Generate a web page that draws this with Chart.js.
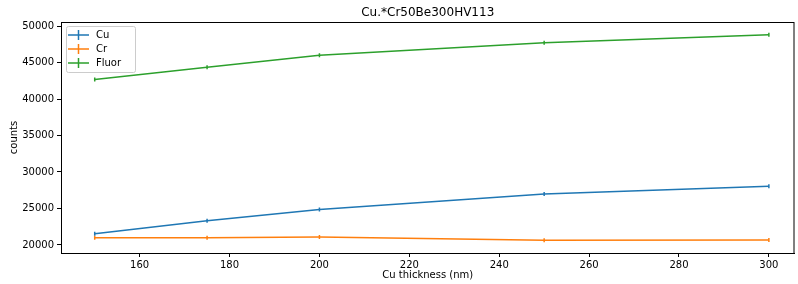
<!DOCTYPE html>
<html><head><meta charset="utf-8">
<script src="https://cdn.jsdelivr.net/npm/chart.js@4"></script>
<style>html,body{margin:0;padding:0;background:#fff}#wrap{width:798px;height:284px}</style>
</head><body><div id="wrap"><canvas id="c" width="798" height="284"></canvas></div>
<script>
const thickness = [150, 175, 200, 250, 300];
const cuCounts = [21550, 23320, 24860, 26980, 28030];
const crCounts = [21000, 21000, 21090, 20650, 20680];
const fluorCounts = [42680, 44350, 46000, 47720, 48800];
const seriesNames = ['Cu', 'Cr', 'Fluor'];
const seriesColors = ['#1f77b4', '#ff7f0e', '#2ca02c'];
const xTicks = [160, 180, 200, 220, 240, 260, 280, 300];
const yTicks = [20000, 25000, 30000, 35000, 40000, 45000, 50000];
const titleText = 'Cu.*Cr50Be300HV113';
const xTitle = 'Cu thickness (nm)';
const yTitle = 'counts';

const FONT = 'DejaVu Sans';
function mk(vals, i) {
  return {
    label: seriesNames[i],
    data: thickness.map((x, k) => ({x: x, y: vals[k]})),
    borderColor: seriesColors[i], backgroundColor: seriesColors[i],
    borderWidth: 1.5, pointStyle: 'line', pointRotation: 90,
    pointRadius: 2, pointBorderWidth: 1.5, pointHoverRadius: 2, tension: 0
  };
}
const deco = {
  id: 'deco',
  afterDraw(chart) {
    const c = chart.ctx, a = chart.chartArea;
    c.save();
    c.strokeStyle = '#000'; c.lineWidth = 1;
    c.strokeRect(a.left + 0.5, a.top + 0.5, a.right - a.left - 1, a.bottom - a.top);
    c.fillStyle = '#000'; c.textAlign = 'center'; c.textBaseline = 'middle';
    c.font = '12px "' + FONT + '"';
    c.fillText(titleText, (a.left + a.right) / 2, 13);
    c.font = '10px "' + FONT + '"';
    c.fillText(xTitle, (a.left + a.right) / 2, 275);
    c.save(); c.translate(14, (a.top + a.bottom) / 2); c.rotate(-Math.PI / 2);
    c.fillText(yTitle, 0, 0); c.restore();
    // legend
    const lx = 66, ly = 26, lw = 69, lh = 46;
    c.fillStyle = 'rgba(255,255,255,0.8)';
    c.strokeStyle = '#cccccc';
    c.beginPath();
    if (c.roundRect) c.roundRect(lx + 0.5, ly + 0.5, lw, lh, 2); else c.rect(lx + 0.5, ly + 0.5, lw, lh);
    c.fill(); c.stroke();
    c.textAlign = 'left';
    for (let i = 0; i < 3; i++) {
      const y = 35 + i * 14;
      c.strokeStyle = seriesColors[i]; c.lineWidth = 1.5;
      c.beginPath(); c.moveTo(68, y); c.lineTo(89, y); c.moveTo(78.5, y - 5); c.lineTo(78.5, y + 5); c.stroke();
      c.fillStyle = '#000';
      c.fillText(seriesNames[i], 96, y);
    }
    c.restore();
  }
};
new Chart(document.getElementById('c'), {
  type: 'line',
  data: { datasets: [mk(cuCounts, 0), mk(crCounts, 1), mk(fluorCounts, 2)] },
  options: {
    responsive: false, animation: false, devicePixelRatio: 1,
    layout: { padding: { top: 22, right: 1, left: 0, bottom: 0 } },
    plugins: { legend: { display: false }, title: { display: false }, tooltip: { enabled: false } },
    scales: {
      x: {
        type: 'linear', min: 142.5, max: 305.7,
        afterBuildTicks: s => { s.ticks = xTicks.map(v => ({value: v})); },
        afterFit: s => { s.height = 31; },
        grid: { drawOnChartArea: false, drawTicks: true, tickLength: 4, color: '#000' },
        border: { display: true, color: '#000' },
        ticks: { color: '#000', font: { family: FONT, size: 10 }, padding: 2, maxRotation: 0, callback: v => String(v) }
      },
      y: {
        type: 'linear', min: 18900, max: 50550,
        afterBuildTicks: s => { s.ticks = yTicks.map(v => ({value: v})); },
        afterFit: s => { s.width = 61; },
        grid: { drawOnChartArea: false, drawTicks: true, tickLength: 4, color: '#000' },
        border: { display: true, color: '#000' },
        ticks: { color: '#000', font: { family: FONT, size: 10 }, padding: 3, callback: v => String(v) }
      }
    }
  },
  plugins: [deco]
});
</script></body></html>
